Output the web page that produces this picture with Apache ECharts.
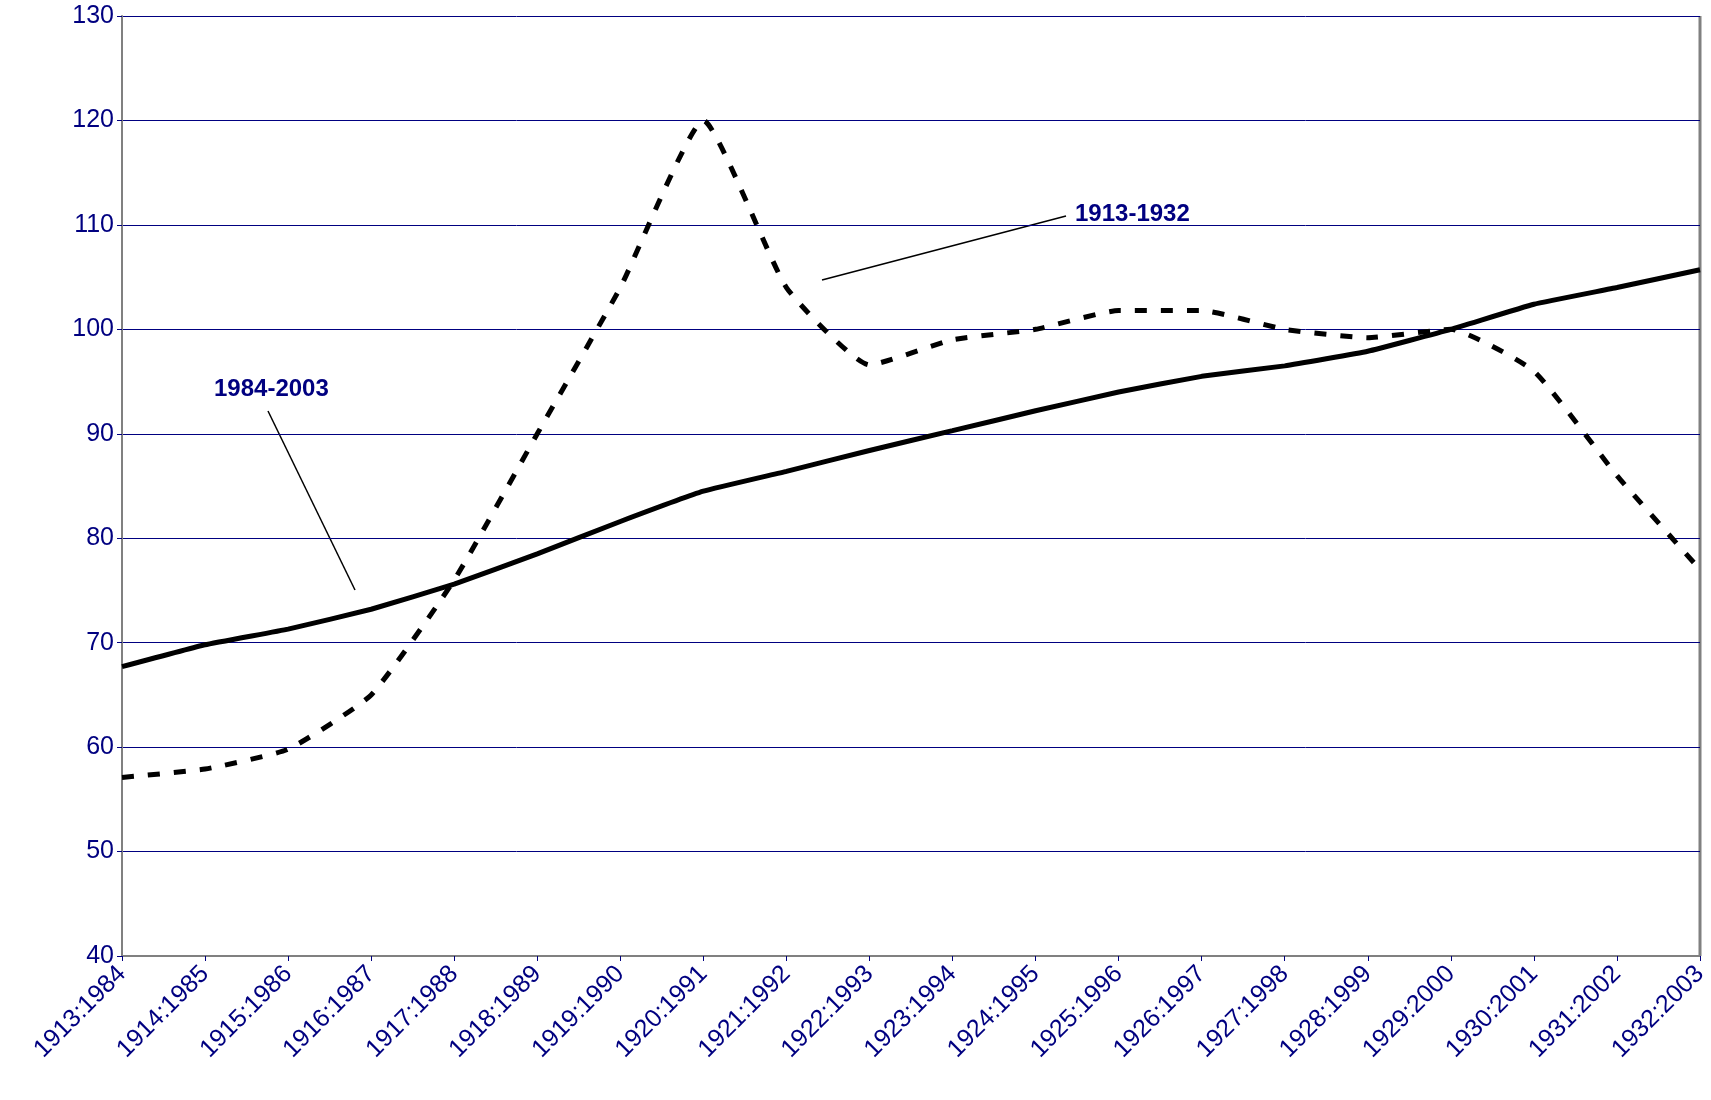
<!DOCTYPE html>
<html><head><meta charset="utf-8">
<script src="https://cdn.jsdelivr.net/npm/echarts@6/dist/echarts.min.js"></script>
<style>html,body{margin:0;background:#fff}#c{width:1711px;height:1100px}</style>
</head><body><div id="c"></div>
<script>
const categories = ["1913:1984","1914:1985","1915:1986","1916:1987","1917:1988","1918:1989","1919:1990","1920:1991","1921:1992","1922:1993","1923:1994","1924:1995","1925:1996","1926:1997","1927:1998","1928:1999","1929:2000","1930:2001","1931:2002","1932:2003"];
const series1984 = [67.7,69.8,71.3,73.2,75.6,78.5,81.6,84.5,86.4,88.4,90.3,92.2,94.0,95.5,96.5,97.9,100,102.4,104.0,105.7];
const series1913 = [57.1,57.9,59.8,65,76,90,104,120,104,96.6,99,100,101.8,101.8,100,99.2,100,96,86,77];
const navy = '#000080';
const chart = echarts.init(document.getElementById('c'));
chart.setOption({
  animation:false,
  grid:{left:122,right:11,top:16,bottom:144,show:true,borderColor:'#808080',borderWidth:0},
  xAxis:{type:'category',data:categories,boundaryGap:false,
    axisLine:{lineStyle:{color:'#808080',width:2}},
    axisTick:{show:true,lineStyle:{color:navy}},
    axisLabel:{rotate:45,color:navy,fontFamily:'Liberation Sans',fontSize:25,margin:14,interval:0},
    splitLine:{show:false}},
  yAxis:{type:'value',min:40,max:130,interval:10,
    axisLine:{show:true,lineStyle:{color:'#808080',width:2}},
    axisTick:{show:true,lineStyle:{color:navy}},
    axisLabel:{color:navy,fontFamily:'Liberation Sans',fontSize:25},
    splitLine:{lineStyle:{color:navy,width:1}}},
  series:[
    {name:'1913-1932',type:'line',data:series1913,smooth:0.15,symbol:'none',
     lineStyle:{color:'#000',width:5,type:[12,14]}},
    {name:'1984-2003',type:'line',data:series1984,smooth:0.1,symbol:'none',
     lineStyle:{color:'#000',width:5}}
  ],
  graphic:[
    {type:'line',shape:{x1:1700,y1:16,x2:1700,y2:956},style:{stroke:'#808080',lineWidth:3}},
    {type:'text',x:1075,y:202,style:{text:'1913-1932',fill:navy,font:'bold 24px Liberation Sans'}},
    {type:'line',shape:{x1:1066,y1:216,x2:822,y2:280},style:{stroke:'#000',lineWidth:1.5}},
    {type:'text',x:214,y:377,style:{text:'1984-2003',fill:navy,font:'bold 24px Liberation Sans'}},
    {type:'line',shape:{x1:268,y1:411,x2:355,y2:590},style:{stroke:'#000',lineWidth:1.5}}
  ]
});
</script></body></html>
